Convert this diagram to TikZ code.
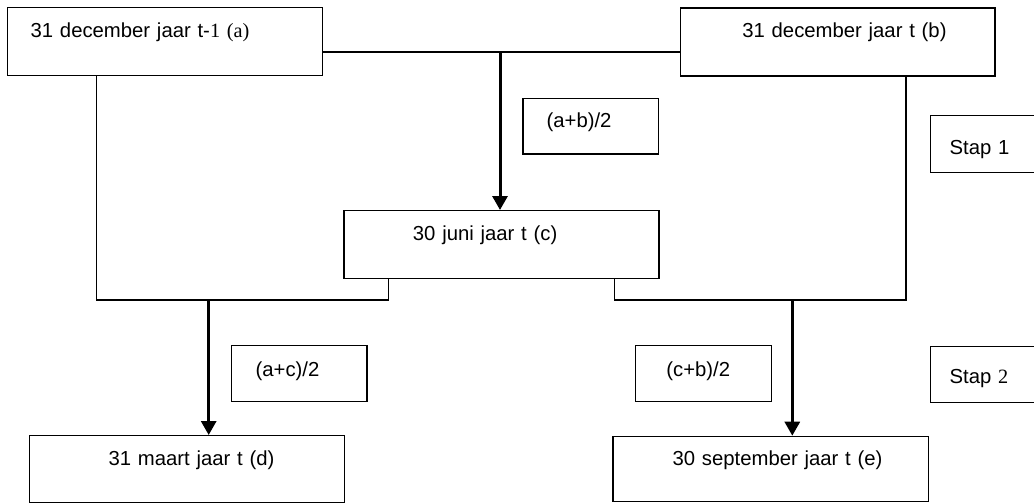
\documentclass[tikz,border=0pt]{standalone}
\usepackage{fontspec}
\setmainfont{Liberation Sans}
\newfontfamily\timesfont{Liberation Serif}
\usetikzlibrary{arrows.meta}
\begin{document}
\begin{tikzpicture}[x=1pt,y=-1pt,font={\fontsize{20.3}{24}\selectfont},
    box/.style={draw,line width=1.3pt,anchor=north west,inner sep=0pt,align=left},
    padl/.style={execute at begin node={\hspace*{#1pt}}},
    link/.style={line width=1.3pt},
    arr/.style={line width=3pt,-{Triangle[width=15pt,length=14pt]}}]
  \useasboundingbox (0,0) rectangle (1034,503);
  \node[box,padl=23.5,text width=315pt,text height=30pt,text depth=38pt] (a) at (6.5,7)
    {31 december jaar t-{\timesfont 1 (a)}};
  \node[box,padl=62,text width=314.6pt,text height=30pt,text depth=38pt] (b) at (679.7,7.3)
    {31 december jaar t (b)};
  \node[box,padl=23.7,text width=135.7pt,text height=29.3pt,text depth=26.3pt] (ab) at (522.3,97.7)
    {(a+b)/2};
  \node[box,padl=19.3,text width=110pt,text height=39pt,text depth=17.7pt] (s1) at (929.7,115)
    {Stap 1};
  \node[box,padl=69,text width=315pt,text height=29.7pt,text depth=38pt] (c) at (343.3,210)
    {30 juni jaar t (c)};
  \node[box,padl=24,text width=135.3pt,text height=31pt,text depth=25pt] (ac) at (231,345)
    {(a+c)/2};
  \node[box,padl=31,text width=136pt,text height=31pt,text depth=25pt] (cb) at (634.7,345)
    {(c+b)/2};
  \node[box,padl=19.3,text width=110pt,text height=37.6pt,text depth=18.4pt] (s2) at (929.7,345.7)
    {Stap {\timesfont 2}};
  \node[box,padl=79,text width=314.7pt,text height=30pt,text depth=36.5pt] (d) at (29,435)
    {31 maart jaar t (d)};
  \node[box,padl=59.7,text width=315.4pt,text height=29.3pt,text depth=36pt] (e) at (612.3,435.7)
    {30 september jaar t (e)};
  \coordinate (top) at (500,52);
  \coordinate (jl) at (208.7,300);
  \coordinate (jr) at (792.3,300);
  \draw[link] (a.east |- top) -- (b.west |- top);
  \draw[arr] (top) -- (top |- c.north);
  \draw[link] ([xshift=90.2pt]a.south west) |- (jl) -| ([xshift=45pt]c.south west);
  \draw[link] ([xshift=-89.6pt]b.south east) |- (jr) -| ([xshift=-45.3pt]c.south east);
  \draw[arr] (jl) -- (jl |- d.north);
  \draw[arr] (jr) -- (jr |- e.north);
\end{tikzpicture}
\end{document}
